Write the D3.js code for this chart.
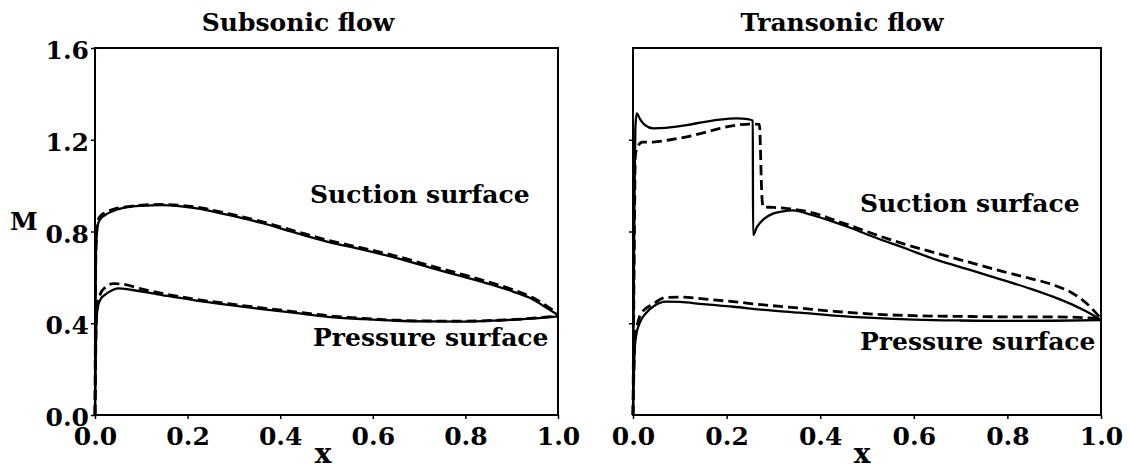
<!DOCTYPE html>
<html>
<head>
<meta charset="utf-8">
<script src="https://cdn.jsdelivr.net/npm/d3@7"></script>
<style>
  html, body { margin: 0; padding: 0; background: #fff; }
  svg text { font-family: "DejaVu Serif", "Liberation Serif", serif; fill: #000; }
</style>
</head>
<body>
<svg id="chart" width="1130" height="470"></svg>
<script>
// ---------------- data ----------------
const panelTitles = ["Subsonic flow", "Transonic flow"];
const xTicks = [0.0, 0.2, 0.4, 0.6, 0.8, 1.0];
const yTicks = [0.0, 0.4, 0.8, 1.2, 1.6];
const surfaceLabels = ["Suction surface", "Pressure surface"];

// Subsonic – suction surface
const subSucSolidX = [0, 0.002, 0.006, 0.012, 0.022, 0.04, 0.07, 0.1, 0.145, 0.216, 0.288, 0.36, 0.432, 0.503, 0.58, 0.652, 0.72, 0.795, 0.85, 0.903, 0.945, 0.976, 1.0];
const subSucSolidM = [0, 0.70, 0.83, 0.855, 0.872, 0.89, 0.906, 0.912, 0.915, 0.902, 0.872, 0.837, 0.795, 0.755, 0.72, 0.684, 0.645, 0.603, 0.572, 0.538, 0.505, 0.466, 0.436];
const subSucDashX = [0, 0.002, 0.006, 0.012, 0.022, 0.04, 0.07, 0.1, 0.145, 0.216, 0.288, 0.36, 0.432, 0.503, 0.58, 0.652, 0.72, 0.795, 0.85, 0.903, 0.945, 0.976, 1.0];
const subSucDashM = [0, 0.72, 0.845, 0.868, 0.882, 0.897, 0.908, 0.915, 0.918, 0.907, 0.878, 0.843, 0.802, 0.762, 0.727, 0.692, 0.653, 0.612, 0.58, 0.546, 0.512, 0.475, 0.44];
// Subsonic – pressure surface
const subPreSolidX = [0, 0.003, 0.006, 0.012, 0.022, 0.035, 0.05, 0.08, 0.145, 0.216, 0.288, 0.36, 0.432, 0.503, 0.58, 0.652, 0.72, 0.795, 0.87, 0.94, 1.0];
const subPreSolidM = [0, 0.40, 0.47, 0.505, 0.525, 0.542, 0.552, 0.545, 0.523, 0.50, 0.48, 0.462, 0.445, 0.428, 0.418, 0.411, 0.408, 0.407, 0.412, 0.42, 0.43];
const subPreDashX = [0, 0.003, 0.006, 0.012, 0.022, 0.04, 0.06, 0.1, 0.145, 0.216, 0.288, 0.36, 0.432, 0.503, 0.58, 0.652, 0.72, 0.795, 0.87, 0.94, 1.0];
const subPreDashM = [0, 0.42, 0.49, 0.53, 0.556, 0.573, 0.57, 0.55, 0.53, 0.505, 0.485, 0.467, 0.45, 0.433, 0.421, 0.413, 0.41, 0.409, 0.413, 0.421, 0.432];

// Transonic – suction surface
const traSucSolidX = [0, 0.003, 0.005, 0.008, 0.015, 0.025, 0.043, 0.07, 0.115, 0.15, 0.186, 0.222, 0.245, 0.256, 0.2565, 0.265, 0.28, 0.299, 0.32, 0.342, 0.38, 0.427, 0.47, 0.513, 0.58, 0.649, 0.72, 0.791, 0.85, 0.897, 0.94, 0.97, 1.0];
const traSucSolidM = [0, 0.90, 1.25, 1.315, 1.29, 1.265, 1.25, 1.252, 1.264, 1.277, 1.288, 1.293, 1.29, 1.283, 0.785, 0.82, 0.855, 0.878, 0.888, 0.892, 0.873, 0.843, 0.812, 0.777, 0.728, 0.676, 0.633, 0.588, 0.55, 0.516, 0.48, 0.45, 0.414];
const traSucDashX = [0, 0.003, 0.005, 0.01, 0.02, 0.043, 0.08, 0.115, 0.15, 0.186, 0.222, 0.25, 0.27, 0.2755, 0.278, 0.3, 0.33, 0.36, 0.4, 0.427, 0.47, 0.513, 0.58, 0.649, 0.72, 0.791, 0.85, 0.897, 0.94, 0.97, 1.0];
const traSucDashM = [0, 0.80, 1.13, 1.17, 1.19, 1.19, 1.20, 1.213, 1.23, 1.25, 1.264, 1.268, 1.267, 0.95, 0.907, 0.905, 0.90, 0.892, 0.872, 0.852, 0.822, 0.79, 0.745, 0.705, 0.665, 0.625, 0.595, 0.568, 0.53, 0.485, 0.42];
// Transonic – pressure surface
const traPreSolidX = [0, 0.004, 0.008, 0.014, 0.028, 0.045, 0.071, 0.1, 0.15, 0.214, 0.28, 0.356, 0.43, 0.513, 0.6, 0.7, 0.8, 0.9, 1.0];
const traPreSolidM = [0, 0.30, 0.36, 0.40, 0.445, 0.475, 0.494, 0.493, 0.483, 0.472, 0.458, 0.446, 0.433, 0.423, 0.416, 0.412, 0.41, 0.411, 0.414];
const traPreDashX = [0, 0.004, 0.01, 0.02, 0.04, 0.07, 0.1, 0.15, 0.214, 0.28, 0.356, 0.43, 0.513, 0.6, 0.7, 0.8, 0.9, 1.0];
const traPreDashM = [0, 0.32, 0.40, 0.45, 0.48, 0.512, 0.514, 0.506, 0.494, 0.48, 0.466, 0.452, 0.44, 0.433, 0.43, 0.428, 0.428, 0.42];

// ---------------- drawing ----------------
const svg = d3.select("#chart");
const zip = (xs, ys) => xs.map((x, i) => ({x, m: ys[i]}));

const panels = [
  { left: 95, right: 558, top: 48, bottom: 415, title: panelTitles[0], titleX: 298, yLabels: true, xLabelX: 323,
    sucLabel: [310, 203], preLabel: [313, 346],
    curves: [
      {d: zip(subSucSolidX, subSucSolidM), dash: false},
      {d: zip(subSucDashX, subSucDashM), dash: true},
      {d: zip(subPreSolidX, subPreSolidM), dash: false},
      {d: zip(subPreDashX, subPreDashM), dash: true}
    ]},
  { left: 633, right: 1101, top: 48, bottom: 415, title: panelTitles[1], titleX: 842, yLabels: false, xLabelX: 862,
    sucLabel: [860, 212], preLabel: [860, 350],
    curves: [
      {d: zip(traSucSolidX, traSucSolidM), dash: false},
      {d: zip(traSucDashX, traSucDashM), dash: true},
      {d: zip(traPreSolidX, traPreSolidM), dash: false},
      {d: zip(traPreDashX, traPreDashM), dash: true}
    ]}
];

panels.forEach(p => {
  const x = d3.scaleLinear().domain([0, 1]).range([p.left, p.right]);
  const y = d3.scaleLinear().domain([0, 1.6]).range([p.bottom, p.top]);
  const g = svg.append("g");

  // curves
  const line = d3.line().x(d => x(d.x)).y(d => y(d.m)).curve(d3.curveMonotoneX);
  p.curves.forEach(c => {
    g.append("path").datum(c.d)
      .attr("d", line)
      .attr("fill", "none")
      .attr("stroke", "#000")
      .attr("stroke-width", c.dash ? 2.8 : 2.3)
      .attr("stroke-dasharray", c.dash ? "10,5" : null)
      .attr("stroke-linejoin", "round");
  });

  // frame
  g.append("rect")
    .attr("x", p.left).attr("y", p.top)
    .attr("width", p.right - p.left).attr("height", p.bottom - p.top)
    .attr("fill", "none").attr("stroke", "#000").attr("stroke-width", 2);

  // axes
  const xAxis = d3.axisBottom(x).tickValues(xTicks).tickFormat(d3.format(".1f")).tickSize(4).tickPadding(8);
  const gx = g.append("g").attr("transform", `translate(0,${p.bottom})`).call(xAxis);
  gx.select(".domain").remove();
  gx.selectAll("line").attr("stroke", "#000").attr("stroke-width", 1.5);
  gx.selectAll("text").attr("font-size", 25).attr("font-weight", "bold")
    .attr("font-family", "DejaVu Serif").attr("dy", "0.72em");

  const yAxis = d3.axisLeft(y).tickValues(yTicks.slice(1, 4).concat(p.yLabels ? [0, 1.6] : []))
    .tickFormat(p.yLabels ? d3.format(".1f") : () => "").tickSize(4).tickPadding(4);
  const gy = g.append("g").attr("transform", `translate(${p.left},0)`).call(yAxis);
  gy.select(".domain").remove();
  gy.selectAll("line").attr("stroke", "#000").attr("stroke-width", 1.5);
  gy.selectAll("text").attr("font-size", 25).attr("font-weight", "bold")
    .attr("font-family", "DejaVu Serif").attr("dy", "0.42em").attr("x", -6);

  // title
  g.append("text").attr("x", p.titleX).attr("y", 31).attr("text-anchor", "middle")
    .attr("font-size", 25).attr("font-weight", "bold").text(p.title);

  // x label
  g.append("text").attr("x", p.xLabelX).attr("y", 463).attr("text-anchor", "middle")
    .attr("font-size", 28).attr("font-weight", "bold").text("x");

  // surface labels
  g.append("text").attr("x", p.sucLabel[0]).attr("y", p.sucLabel[1])
    .attr("font-size", 25).attr("font-weight", "bold").text(surfaceLabels[0]);
  g.append("text").attr("x", p.preLabel[0]).attr("y", p.preLabel[1])
    .attr("font-size", 25).attr("font-weight", "bold").text(surfaceLabels[1]);
});

// M label
svg.append("text").attr("x", 10).attr("y", 230)
  .attr("font-size", 25).attr("font-weight", "bold").text("M");
</script>
</body>
</html>
